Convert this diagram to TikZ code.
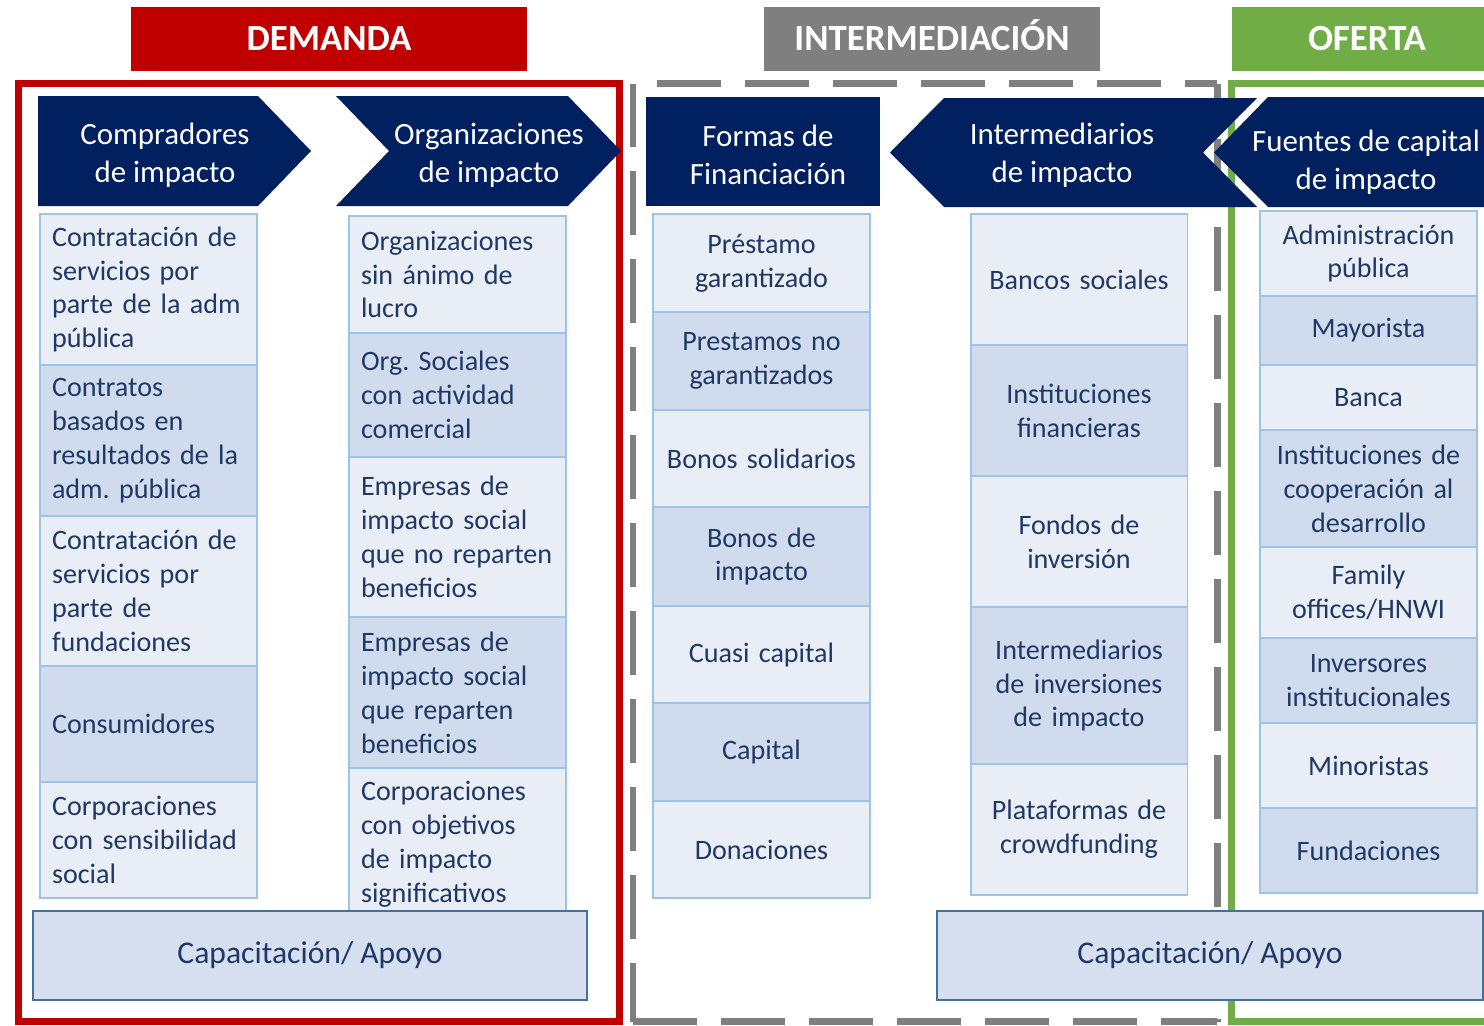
\documentclass[tikz,border=0pt]{standalone}
\usepackage{fontspec}
\setmainfont{Carlito}
\definecolor{demred}{HTML}{C00000}
\definecolor{intgray}{HTML}{7F7F7F}
\definecolor{ofegreen}{HTML}{70AD47}
\definecolor{navy}{HTML}{002060}
\definecolor{celllite}{HTML}{E9EDF5}
\definecolor{celldark}{HTML}{D0DBED}
\definecolor{cellline}{HTML}{9DC3E6}
\definecolor{celltext}{HTML}{1F3864}
\definecolor{capfill}{HTML}{D6DFF0}
\definecolor{capline}{HTML}{41719C}
\begin{document}
\begin{tikzpicture}[x=0.02cm,y=-0.02cm,
  title/.style={text=white,inner sep=0pt,minimum height=1.28cm,text height=13.5pt,text depth=0pt,font=\fontsize{21}{25}\selectfont\bfseries},
  hd/.style={text=white,align=center,font=\fontsize{17.6}{21.5}\selectfont},
  framew/.style={line width=3.97pt},
  gapdash/.style={intgray,framew,dash pattern=on 1.28cm off 0.48cm},
  cell/.style={draw=cellline,line width=1.1pt,text=celltext,inner sep=0pt,minimum width=4.34cm,font=\fontsize{16}{19.3}\selectfont},
  cellL/.style={cell,align=left,text width=3.86cm},
  cellC/.style={cell,align=center,text width=4.1cm},
  capbox/.style={draw=capline,fill=capfill,line width=1.1pt,text=celltext,inner sep=0pt,minimum height=1.78cm,font=\fontsize{18}{22}\selectfont}]
  \useasboundingbox (0,0) rectangle (1484,1025);
  \clip (0,0) rectangle (1484,1025);
  \node[title,fill=demred,minimum width=7.92cm] (demanda) at (329,39) {DEMANDA};
  \node[title,fill=intgray,minimum width=6.72cm] (intermed) at (932,39) {INTERMEDIACIÓN};
  \node[title,fill=ofegreen,minimum width=5.4cm] (oferta) at (1367,39) {OFERTA};
  \draw[demred,framew] (18.5,83.5) rectangle (619.5,1021.5);
  \draw[ofegreen,framew] (1231.5,83.5) rectangle (1530,1021.5);
  \draw[gapdash] (633,83.5) -- (633,1021.5);
  \draw[gapdash] (633,1021.5) -- (1217,1021.5);
  \draw[gapdash,dash phase=1.28cm] (633,83.5) -- (1217,83.5);
  \draw[gapdash,dash phase=0.64cm] (1217,83.5) -- (1217,1021.5);
  \fill[navy] (38,96) -- (258,96) -- (311,151) -- (258,206) -- (38,206) -- cycle;
  \node[hd] (compr) at (165,155) {Compradores\\de impacto};
  \fill[navy] (336,96) -- (568,96) -- (621,151) -- (568,206) -- (336,206) -- (389,151) -- cycle;
  \node[hd] (orgs) at (489,155) {Organizaciones\\de impacto};
  \fill[navy] (646,97) rectangle (880,206);
  \node[hd] (formas) at (768,155) {Formas de\\Financiación};
  \fill[navy] (890,152.5) -- (944,98) -- (1257,98) -- (1203,152.5) -- (1257,207) -- (944,207) -- cycle;
  \node[hd] (intermp) at (1062,155) {Intermediarios\\de impacto};
  \fill[navy] (1214,152.5) -- (1268,97) -- (1530,97) -- (1530,207) -- (1268,207) -- cycle;
  \node[hd] (fuentes) at (1366,162) {Fuentes de capital\\de impacto};
  \foreach \k/\ya/\yb/\c/\t in {
      a/214/365/celllite/{Contratación de\\servicios por\\parte de la adm\\pública},
      b/365/516/celldark/{Contratos\\basados en\\resultados de la\\adm.\ pública},
      c/516/666/celllite/{Contratación de\\servicios por\\parte de\\fundaciones},
      d/666/782/celldark/{Consumidores},
      e/782/898/celllite/{Corporaciones\\con sensibilidad\\social}}
    \node[cellL,fill=\c,minimum height=(\yb-\ya)*0.02cm] (dem\k) at (148.5,{(\ya+\yb)/2}) {\t};
  \foreach \k/\ya/\yb/\c/\t in {
      a/216/333/celllite/{Organizaciones\\sin ánimo de\\lucro},
      b/333/457/celldark/{Org.\ Sociales\\con actividad\\comercial},
      c/457/617/celllite/{Empresas de\\impacto social\\que no reparten\\beneficios},
      d/617/768/celldark/{Empresas de\\impacto social\\que reparten\\beneficios},
      e/768/921/celllite/{Corporaciones\\con objetivos\\de impacto\\significativos}}
    \node[cellL,fill=\c,minimum height=(\yb-\ya)*0.02cm] (org\k) at (457.5,{(\ya+\yb)/2}) {\t};
  \foreach \k/\ya/\yb/\c/\t in {
      a/214/312/celllite/{Préstamo\\garantizado},
      b/312/410/celldark/{Prestamos no\\garantizados},
      c/410/507/celllite/{Bonos solidarios},
      d/507/606/celldark/{Bonos de\\impacto},
      e/606/703/celllite/{Cuasi capital},
      f/703/801/celldark/{Capital},
      g/801/898/celllite/{Donaciones}}
    \node[cellC,fill=\c,minimum height=(\yb-\ya)*0.02cm] (fin\k) at (761.5,{(\ya+\yb)/2}) {\t};
  \foreach \k/\ya/\yb/\c/\t in {
      a/214/345/celllite/{Bancos sociales},
      b/345/476/celldark/{Instituciones\\financieras},
      c/476/607/celllite/{Fondos de\\inversión},
      d/607/764/celldark/{Intermediarios\\de inversiones\\de impacto},
      e/764/895/celllite/{Plataformas de\\crowdfunding}}
    \node[cellC,fill=\c,minimum height=(\yb-\ya)*0.02cm] (int\k) at (1079,{(\ya+\yb)/2}) {\t};
  \foreach \k/\ya/\yb/\c/\t in {
      a/211/296/celllite/{Administración\\pública},
      b/296/365/celldark/{Mayorista},
      c/365/430/celllite/{Banca},
      d/430/547/celldark/{Instituciones de\\cooperación al\\desarrollo},
      e/547/638/celllite/{Family\\offices/HNWI},
      f/638/723/celldark/{Inversores\\institucionales},
      g/723/808/celllite/{Minoristas},
      h/808/893/celldark/{Fundaciones}}
    \node[cellC,fill=\c,minimum height=(\yb-\ya)*0.02cm] (ofe\k) at (1368.5,{(\ya+\yb)/2}) {\t};
  \node[capbox,minimum width=11.08cm] (capdem) at (310,955.5) {Capacitación/ Apoyo};
  \node[capbox,minimum width=10.92cm] (capofe) at (1210,955.5) {Capacitación/ Apoyo};
\end{tikzpicture}
\end{document}
